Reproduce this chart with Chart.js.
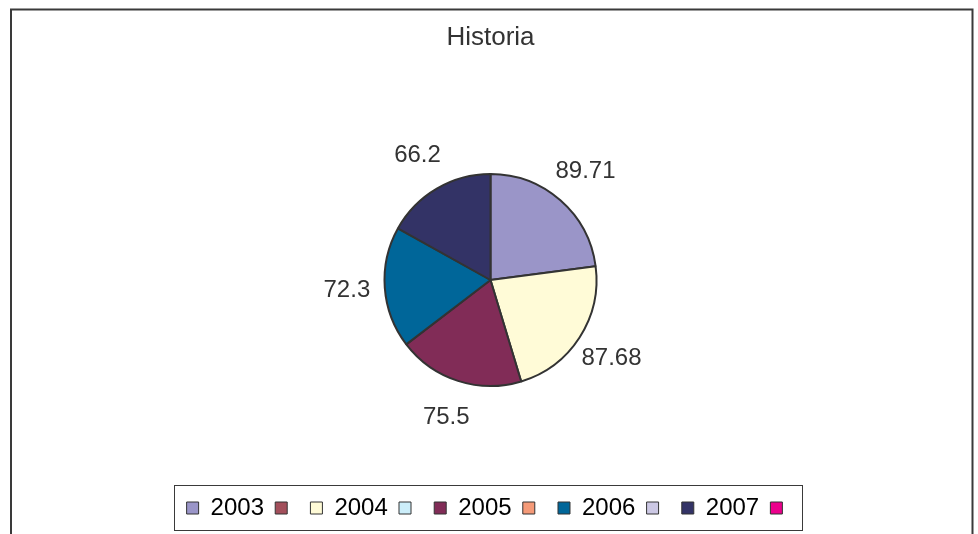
<!DOCTYPE html>
<html>
<head>
<meta charset="utf-8">
<script src="https://cdn.jsdelivr.net/npm/chart.js@4"></script>
<style>
  body { margin: 0; background: #fff; }
</style>
</head>
<body>
<canvas id="historiaChart" width="978" height="534"></canvas>
<script>
const years = ['2003', '2004', '2005', '2006', '2007'];
const values = [89.71, 87.68, 75.5, 72.3, 66.2];
const sliceColours = ['#9a95c8', '#fffbd7', '#812c57', '#006699', '#333366'];
// the unlabelled legend entries between the years
const spareColours = ['#a34f5b', '#cceefa', '#f59a78', '#ccc8e4', '#ec008c'];

const FONT = '"Liberation Sans", Arial, sans-serif';

const frame = {
    id: 'frame',
    beforeDraw(chart) {
        const ctx = chart.ctx;
        ctx.save();
        ctx.fillStyle = '#fff';
        ctx.fillRect(0, 0, chart.width, chart.height);
        ctx.strokeStyle = '#3a3a3a';
        ctx.lineWidth = 2;
        ctx.beginPath();
        ctx.moveTo(11, chart.height);
        ctx.lineTo(11, 9.5);
        ctx.lineTo(972.5, 9.5);
        ctx.lineTo(972.5, chart.height);
        ctx.stroke();
        ctx.restore();
    },
    afterDraw(chart) {
        // box round the legend
        const lg = chart.legend;
        const hb = lg.legendHitBoxes;
        if (!hb || !hb.length) return;
        const left = hb[0].left - 13;
        const right = hb[hb.length - 1].left + 31;
        const ctx = chart.ctx;
        ctx.save();
        ctx.strokeStyle = '#3a3a3a';
        ctx.lineWidth = 1;
        ctx.strokeRect(Math.round(left) + 0.5, Math.round(lg.top) + 0.5, Math.round(right - left), Math.round(lg.bottom - lg.top));
        ctx.restore();
    }
};

const outsideLabels = {
    id: 'outsideLabels',
    afterDatasetsDraw(chart) {
        const ctx = chart.ctx;
        const meta = chart.getDatasetMeta(0);
        ctx.save();
        ctx.font = '24px ' + FONT;
        ctx.fillStyle = '#333';
        ctx.textAlign = 'center';
        ctx.textBaseline = 'middle';
        meta.data.forEach((arc, i) => {
            const p = arc.getProps(['x', 'y', 'startAngle', 'endAngle', 'outerRadius'], true);
            const mid = (p.startAngle + p.endAngle) / 2;
            const d = p.outerRadius + 38;
            ctx.fillText(String(values[i]), p.x + Math.cos(mid) * d, p.y + Math.sin(mid) * d);
        });
        ctx.restore();
    }
};

new Chart(document.getElementById('historiaChart'), {
    type: 'pie',
    data: {
        labels: years,
        datasets: [{
            data: values,
            backgroundColor: sliceColours,
            borderColor: '#333',
            borderWidth: 2,
            radius: 106
        }]
    },
    options: {
        responsive: false,
        animation: false,
        layout: { padding: { bottom: 4, left: 3 } },
        plugins: {
            title: {
                display: true,
                text: 'Historia',
                color: '#333',
                font: { family: FONT, size: 26, weight: 'normal' },
                padding: { top: 22, bottom: 22 }
            },
            legend: {
                position: 'bottom',
                onClick: () => {},
                labels: {
                    color: '#333',
                    font: { family: FONT, size: 24 },
                    boxWidth: 12,
                    boxHeight: 12,
                    padding: 11.2,
                    generateLabels: () => {
                        const items = [];
                        years.forEach((y, i) => {
                            items.push({ text: y, fillStyle: sliceColours[i], strokeStyle: '#333', lineWidth: 1, hidden: false });
                            items.push({ text: '', fillStyle: spareColours[i], strokeStyle: '#333', lineWidth: 1, hidden: false });
                        });
                        return items;
                    }
                }
            },
            tooltip: { enabled: false }
        }
    },
    plugins: [frame, outsideLabels]
});
</script>
</body>
</html>
